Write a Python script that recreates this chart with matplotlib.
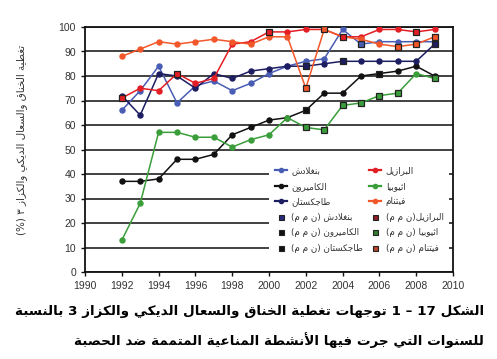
import re
import matplotlib
matplotlib.use('Agg')
import matplotlib.pyplot as plt
from matplotlib.lines import Line2D

# Datos
years = list(range(1992, 2010))
bangladesh = [66, 74, 84, 69, 76, 78, 74, 77, 81, 84, 86, 87, 99, 93, 94, 94, 94, 94]
brazil     = [71, 75, 74, 81, 77, 79, 93, 94, 98, 98, 99, 99, 96, 96, 99, 99, 98, 99]
cameroon   = [37, 37, 38, 46, 46, 48, 56, 59, 62, 63, 66, 73, 73, 80, 81, 82, 84, 80]
ethiopia   = [13, 28, 57, 57, 55, 55, 51, 54, 56, 63, 59, 58, 68, 69, 72, 73, 81, 79]
vietnam    = [88, 91, 94, 93, 94, 95, 94, 93, 96, 96, 75, 99, 96, 95, 93, 92, 93, 96]
tajikistan = [72, 64, 81, 80, 75, 81, 79, 82, 83, 84, 84, 85, 86, 86, 86, 86, 86, 93]

# anos con actividades (ن م م)
bangladesh_sia = [2005]
brazil_sia     = [1992, 1995, 2000, 2004, 2008]
cameroon_sia   = [2002, 2006]
ethiopia_sia   = [2002, 2003, 2004, 2005, 2006, 2007, 2009]
vietnam_sia    = [2002, 2003, 2007, 2008, 2009]
tajikistan_sia = [2002, 2004, 2009]

names = ['بنغلادش', 'الكاميرون', 'طاجكستان', 'البرازيل', 'اثيوبيا', 'فيتنام']
sia_names = ['بنغلادش (ن م م)', 'الكاميرون (ن م م)', 'طاجكستان (ن م م)',
             'البرازيل(ن م م)', 'اثيوبيا (ن م م)', 'فيتنام (ن م م)']
title_1 = 'الشكل 17 – 1 توجهات تغطية الخناق والسعال الديكي والكزاز 3 بالنسبة'
title_2 = 'للسنوات التي جرت فيها الأنشطة المناعية المتممة ضد الحصبة'
ylabel = 'تغطية الخناق والسعال الديكي والكزاز ٣ (%)'

# Formas de presentacion arabes (matplotlib no hace el "shaping")
_letters = 'ءآأؤإئابةتثجحخدذرزسشصضطظعغفقكلمنهوىي'
_right_only = 'آأؤإادذرزوىة'
FORMS = {}
code = 0xFE80
for ch in _letters:
    n = 1 if ch == 'ء' else (2 if ch in _right_only else 4)
    FORMS[ch] = (code, n)
    code += n
LAM_ALEF = {'آ': 0xFEF5, 'أ': 0xFEF7, 'إ': 0xFEF9, 'ا': 0xFEFB}


def shape(s):
    res = []
    prev_joins = False
    i = 0
    while i < len(s):
        c = s[i]
        if c not in FORMS:
            res.append(c)
            prev_joins = False
            i += 1
            continue
        nxt = s[i + 1] if i + 1 < len(s) else ''
        if c == 'ل' and nxt in LAM_ALEF:
            res.append(chr(LAM_ALEF[nxt] + (1 if prev_joins else 0)))
            prev_joins = False
            i += 2
            continue
        base, nf = FORMS[c]
        next_joins = nf == 4 and nxt in FORMS and FORMS[nxt][1] >= 2
        if nf == 1:
            k = 0
        elif prev_joins and next_joins:
            k = 3
        elif prev_joins:
            k = 1
        elif next_joins:
            k = 2
        else:
            k = 0
        res.append(chr(base + k))
        prev_joins = next_joins
        i += 1
    return ''.join(res)


def ar(s):
    tokens = re.findall(r'[0-9A-Za-z]+|.', shape(s))
    mirror = {'(': ')', ')': '('}
    return ''.join(mirror.get(t, t) for t in reversed(tokens))


colors = ['#4a5db4', '#111111', '#1d1d62', '#e31e24', '#3a9e3a', '#f2572a']
sia_fill = ['#2a2a80', '#111111', '#111111', '#8a1d22', '#2f7f2f', '#b5462a']
series = [bangladesh, cameroon, tajikistan, brazil, ethiopia, vietnam]
sia = [bangladesh_sia, cameroon_sia, tajikistan_sia, brazil_sia, ethiopia_sia, vietnam_sia]

plt.rcParams['font.family'] = ['Liberation Sans', 'DejaVu Sans']

fig = plt.figure(figsize=(4.97, 3.59), dpi=100)
ax = fig.add_axes([85 / 497, 1 - 272 / 359, 368 / 497, 245 / 359])

for vals, col in zip(series, colors):
    ax.plot(years, vals, '-o', color=col, lw=1.1, ms=3.6, zorder=3)
for vals, sy, col, fill in zip(series, sia, colors, sia_fill):
    yv = [vals[years.index(y)] for y in sy]
    ax.plot(sy, yv, 's', ms=4.3, mfc=col, mec='#222222', mew=0.9, zorder=4)

ax.set_xlim(1990, 2010)
ax.set_ylim(0, 100)
ax.set_xticks(range(1990, 2011, 2))
ax.set_yticks(range(0, 101, 10))
ax.yaxis.grid(True, color='#333333', lw=1.3)
ax.set_axisbelow(True)
for sp in ax.spines.values():
    sp.set_color('#111111')
    sp.set_linewidth(1.3)
ax.tick_params(labelsize=7.5, colors='#111111', labelcolor='#333333', length=3, width=1)

handles = []
labels = []
for nm, col in zip(names[:3], colors[:3]):
    handles.append(Line2D([], [], color=col, lw=1.6, marker='o', ms=3))
    labels.append(ar(nm))
for nm, col in zip(sia_names[:3], sia_fill[:3]):
    handles.append(Line2D([], [], ls='none', marker='s', ms=3.6, mfc=col, mec='#222222', mew=0.8))
    labels.append(ar(nm))
for nm, col in zip(names[3:], colors[3:]):
    handles.append(Line2D([], [], color=col, lw=1.6, marker='o', ms=3))
    labels.append(ar(nm))
for nm, col in zip(sia_names[3:], sia_fill[3:]):
    handles.append(Line2D([], [], ls='none', marker='s', ms=3.6, mfc=col, mec='#222222', mew=0.8))
    labels.append(ar(nm))

leg = ax.legend(handles, labels, ncol=2, loc='center', bbox_to_anchor=(0.745, 0.255),
                prop={'family': 'DejaVu Sans', 'size': 6.3}, frameon=True, fancybox=False,
                edgecolor='none', facecolor='white', framealpha=1, handlelength=1.4,
                handletextpad=0.5, columnspacing=0.7, labelspacing=0.75, borderpad=0.6)
for t in leg.get_texts():
    t.set_color('#333333')

fig.text(22 / 497, 1 - 140 / 359, ar(ylabel), rotation=90, ha='center', va='center',
         fontsize=7.5, color='#333333', family='DejaVu Sans')

fig.text(484 / 497, 1 - 312 / 359, ar(title_1), ha='right', va='center',
         fontsize=9.7, fontweight='bold', family='DejaVu Sans')
fig.text(484 / 497, 1 - 340 / 359, ar(title_2), ha='right', va='center',
         fontsize=9.7, fontweight='bold', family='DejaVu Sans')

fig.savefig('out.png', dpi=100)
